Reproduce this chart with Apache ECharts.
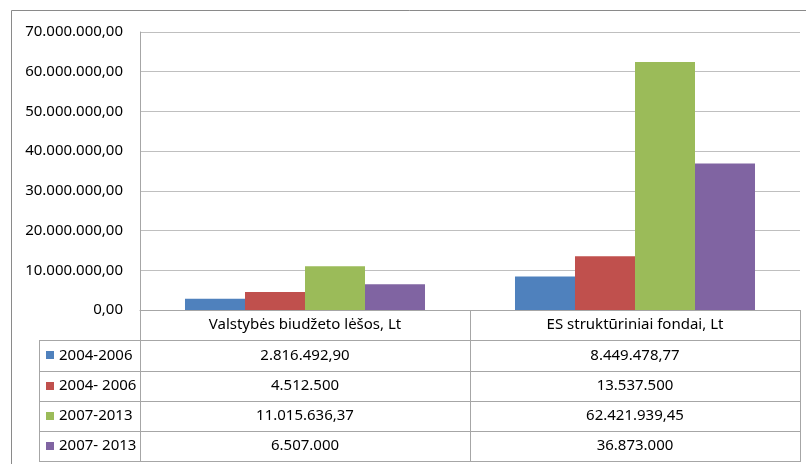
<!DOCTYPE html>
<html>
<head>
<meta charset="utf-8">
<script src="https://cdn.jsdelivr.net/npm/echarts@6/dist/echarts.min.js"></script>
<style>
html,body{margin:0;padding:0;background:#fff;}
#c{width:806px;height:464px;}
</style>
</head>
<body>
<div id="c"></div>
<script>
// ---- data ----
var categories = ['Valstybės biudžeto lėšos, Lt', 'ES struktūriniai fondai, Lt'];
var seriesNames = ['2004-2006', '2004- 2006', '2007-2013', '2007- 2013'];
var s1 = [2816492.90, 8449478.77];
var s2 = [4512500, 13537500];
var s3 = [11015636.37, 62421939.45];
var s4 = [6507000, 36873000];
var colors = ['#4f81bd', '#c0504d', '#9bbb59', '#8064a2'];
var yTicks = [0, 10000000, 20000000, 30000000, 40000000, 50000000, 60000000, 70000000];

function fmtThousands(n) {
  return String(n).replace(/\B(?=(\d{3})+(?!\d))/g, '.');
}
function fmtAxis(v) {
  return fmtThousands(Math.round(v)) + ',00';
}
function fmtCell(v) {
  var r = Math.round(v * 100);
  var intPart = Math.floor(r / 100);
  var dec = r % 100;
  var s = fmtThousands(intPart);
  if (dec !== 0) s += ',' + (dec < 10 ? '0' + dec : dec);
  return s;
}

var allSeries = [s1, s2, s3, s4];
var FONT = '"Noto Sans", "Liberation Sans", sans-serif';
var FS = 15;

// ---- layout ----
var gridL = 140, gridR = 800, gridT = 32, gridB = 310;
var tableL = 39, rowH = 30.25;
var lineCol = '#a6a6a6';

var chart = echarts.init(document.getElementById('c'), null, {renderer: 'canvas'});

var option = {
  animation: false,
  backgroundColor: '#fff',
  grid: {left: gridL, right: 806 - gridR, top: gridT, bottom: 464 - gridB, containLabel: false},
  xAxis: {
    type: 'category',
    data: categories,
    axisLine: {show: true, lineStyle: {color: lineCol, width: 1}},
    axisTick: {show: false},
    axisLabel: {show: false},
    splitLine: {show: false}
  },
  yAxis: {
    type: 'value',
    min: yTicks[0],
    max: yTicks[yTicks.length - 1],
    interval: yTicks[1] - yTicks[0],
    axisLine: {show: true, lineStyle: {color: lineCol, width: 1}},
    axisTick: {show: false},
    axisLabel: {
      margin: 17,
      fontSize: FS,
      fontFamily: FONT,
      color: '#000',
      formatter: fmtAxis
    },
    splitLine: {show: true, lineStyle: {color: '#bfbfbf', width: 1}}
  },
  series: allSeries.map(function (d, i) {
    return {
      type: 'bar',
      name: seriesNames[i],
      data: d,
      barGap: '0%',
      barCategoryGap: '27.27%',
      itemStyle: {color: colors[i]}
    };
  })
};
chart.setOption(option);

// ---- data table drawn beneath the plot ----
var graphics = [];
function hline(x1, x2, y) {
  y = Math.round(y) + 0.5;
  graphics.push({type: 'line', silent: true, z: 100,
    shape: {x1: x1, y1: y, x2: x2, y2: y},
    style: {stroke: lineCol, lineWidth: 1}});
}
function vline(x, y1, y2) {
  x = Math.round(x) + 0.5;
  graphics.push({type: 'line', silent: true, z: 100,
    shape: {x1: x, y1: y1, x2: x, y2: y2},
    style: {stroke: lineCol, lineWidth: 1}});
}
function text(x, y, s, align) {
  graphics.push({type: 'text', silent: true, z: 101, x: x, y: y,
    style: {text: s, fill: '#000', font: FS + 'px ' + FONT, align: align, verticalAlign: 'middle'}});
}

var nRows = allSeries.length;
var tableBottom = gridB + rowH * (nRows + 1);
// column boundaries from category positions
var c0 = chart.convertToPixel({xAxisIndex: 0}, 0);
var c1 = chart.convertToPixel({xAxisIndex: 0}, 1);
var mid = (c0 + c1) / 2;

// horizontal lines
for (var r = 1; r <= nRows + 1; r++) {
  hline(tableL, gridR + 1, gridB + rowH * r);
}
// vertical lines
vline(tableL, gridB + rowH, tableBottom);
vline(gridL, gridB, tableBottom);
vline(mid, gridB, tableBottom);
vline(gridR, gridB, tableBottom);

// header
text(c0, gridB + rowH / 2, categories[0], 'center');
text(c1, gridB + rowH / 2, categories[1], 'center');

// rows
for (var i = 0; i < nRows; i++) {
  var cy = gridB + rowH * (i + 1) + rowH / 2;
  graphics.push({type: 'rect', silent: true, z: 101,
    shape: {x: 46, y: Math.round(cy) - 4, width: 8, height: 8},
    style: {fill: colors[i]}});
  text(59, cy, seriesNames[i], 'left');
  text(c0, cy, fmtCell(allSeries[i][0]), 'center');
  text(c1, cy, fmtCell(allSeries[i][1]), 'center');
}

// outer chart border
graphics.push({type: 'rect', silent: true, z: 0,
  shape: {x: 11.5, y: 10.5, width: 820, height: 480},
  style: {fill: null, stroke: '#8a8a8a', lineWidth: 1}});

chart.setOption({graphic: graphics});
</script>
</body>
</html>
